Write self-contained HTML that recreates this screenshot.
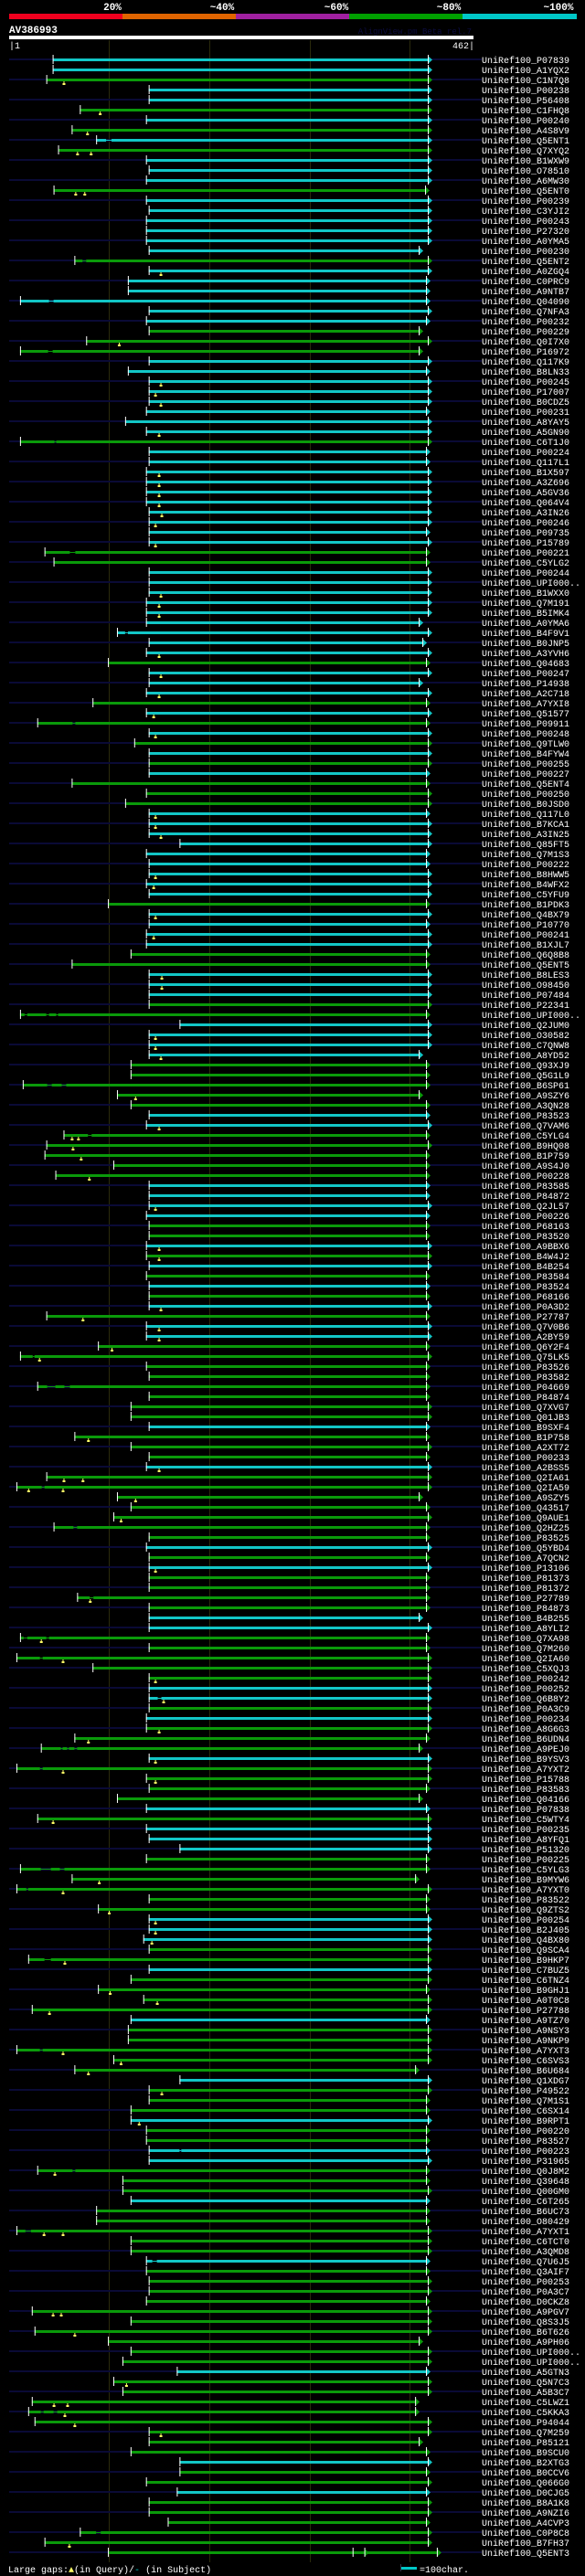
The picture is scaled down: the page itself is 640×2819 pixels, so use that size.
<!DOCTYPE html>
<html><head><meta charset="utf-8">
<style>
html,body{margin:0;padding:0;background:#000;}
svg{display:block;}
text{font-family:"Liberation Mono",monospace;}
</style></head>
<body>
<svg id="chart" width="640" height="2819" viewBox="0 0 640 2819" xmlns="http://www.w3.org/2000/svg">
<rect x="0" y="0" width="640" height="2819" fill="#000"/>
<g>
<rect x="10" y="15" width="124" height="6" fill="#f0001e"/>
<rect x="134" y="15" width="124" height="6" fill="#e06400"/>
<rect x="258" y="15" width="124" height="6" fill="#a020a0"/>
<rect x="382" y="15" width="124" height="6" fill="#00a000"/>
<rect x="506" y="15" width="125" height="6" fill="#00c8c8"/>
<text x="123" y="11" fill="#fff" font-size="11" font-weight="bold" text-anchor="middle">20%</text>
<text x="243" y="11" fill="#fff" font-size="11" font-weight="bold" text-anchor="middle">~40%</text>
<text x="368" y="11" fill="#fff" font-size="11" font-weight="bold" text-anchor="middle">~60%</text>
<text x="491" y="11" fill="#fff" font-size="11" font-weight="bold" text-anchor="middle">~80%</text>
<text x="611" y="11" fill="#fff" font-size="11" font-weight="bold" text-anchor="middle">~100%</text>
</g>
<text x="10" y="36" fill="#fff" font-size="11" font-weight="bold">AV386993</text>
<text x="516" y="37" fill="#0c0c40" font-size="9" text-anchor="end">AlignView.pm Beta rel.7</text>
<rect x="10" y="39" width="508" height="4" fill="#fff"/>
<text x="10" y="53" fill="#fff" font-size="10">|1</text>
<text x="519" y="53" fill="#fff" font-size="10" text-anchor="end">462|</text>
<g id="grid"></g>
<g id="rows"></g>
<g>
<text x="9" y="2815" fill="#fff" font-size="10">Large gaps:<tspan fill="#ffff66">▲</tspan>(in Query)/<tspan fill="#00c8c8">-</tspan> (in Subject)</text>
<rect x="439" y="2809" width="17" height="3" fill="#00c8c8"/>
<rect x="438" y="2806" width="1" height="8" fill="#334"/>
<text x="459" y="2815" fill="#fff" font-size="10">=100char.</text>
</g>
</svg>
<script>
const labels = ["P07839","A1YQX2","C1N7Q8","P00238","P56408","C1FHQ8","P00240","A4S8V9","Q5ENT1","Q7XYQ2",
"B1WXW9","O78510","A6MW30","Q5ENT0","P00239","C3YJI2","P00243","P27320","A0YMA5","P00230",
"Q5ENT2","A0ZGQ4","C0PRC9","A9NTB7","Q04090","Q7NFA3","P00232","P00229","Q0I7X0","P16972",
"Q117K9","B8LN33","P00245","P17007","B0CDZ5","P00231","A8YAY5","A5GN90","C6T1J0","P00224",
"Q117L1","B1X597","A3Z696","A5GV36","Q064V4","A3IN26","P00246","P09735","P15789","P00221",
"C5YLG2","P00244","UPI000..","B1WXX0","Q7M191","B5IMK4","A0YMA6","B4F9V1","B0JNP5","A3YVH6",
"Q04683","P00247","P14938","A2C718","A7YXI8","Q51577","P09911","P00248","Q9TLW0","B4FYW4",
"P00255","P00227","Q5ENT4","P00250","B0JSD0","Q117L0","B7KCA1","A3IN25","Q85FT5","Q7M1S3",
"P00222","B8HWW5","B4WFX2","C5YFU9","B1PDK3","Q4BX79","P10770","P00241","B1XJL7","Q6Q8B8",
"Q5ENT5","B8LES3","O98450","P07484","P22341","UPI000..","Q2JUM0","O30582","C7QNW8","A8YD52",
"Q93XJ9","Q5G1L9","B6SP61","A9SZY6","A3QN28","P83523","Q7VAM6","C5YLG4","B9HQ08","B1P759",
"A9S4J0","P00228","P83585","P84872","Q2JL57","P00226","P68163","P83520","A9BBX6","B4W4J2",
"B4B254","P83584","P83524","P68166","P0A3D2","P27787","Q7V0B6","A2BY59","Q6Y2F4","Q75LK5",
"P83526","P83582","P04669","P84874","Q7XVG7","Q01JB3","B9SXF4","B1P758","A2XT72","P00233",
"A2BSS5","Q2IA61","Q2IA59","A9SZY5","Q43517","Q9AUE1","Q2HZ25","P83525","Q5YBD4","A7QCN2",
"P13106","P81373","P81372","P27789","P84873","B4B255","A8YLI2","Q7XA98","Q7M260","Q2IA60",
"C5XQJ3","P00242","P00252","Q6B8Y2","P0A3C9","P00234","A8G6G3","B6UDN4","A9PEJ0","B9YSV3",
"A7YXT2","P15788","P83583","Q04166","P07838","C5WTY4","P00235","A8YFQ1","P51320","P00225",
"C5YLG3","B9MYW6","A7YXT0","P83522","Q9ZTS2","P00254","B2J405","Q4BX80","Q9SCA4","B9HKP7",
"C7BUZ5","C6TNZ4","B9GHJ1","A0T0C8","P27788","A9TZ70","A9NSY3","A9NKP9","A7YXT3","C6SVS3",
"B6U684","Q1XDG7","P49522","Q7M1S1","C6SX14","B9RPT1","P00220","P83527","P00223","P31965",
"Q0J8M2","Q39648","Q00GM0","C6T265","B6UC73","O80429","A7YXT1","C6TCT0","A3QMD8","Q7U6J5",
"Q3AIF7","P00253","P0A3C7","D0CKZ8","A9PGV7","Q8S3J5","B6T626","A9PH06","UPI000..","UPI000..",
"A5GTN3","Q5N7C3","A5B3C7","C5LWZ1","C5KKA3","P94044","Q7M259","P85121","B9SCU0","B2XTG3",
"B0CCV6","Q066G0","D0CJG5","B8A1K8","A9NZI6","A4CVP3","C0P8C8","B7FH37","Q5ENT3"];
const identityClass = ("ccgccgcgcg"+"cccgcccccc"+"gccccccggg"+"ccccccccgc"+"cccccccccg"+
"gccccccccc"+"gcccgcgcgc"+"gcgggccccc"+"ccccgccccg"+"gcccggcccc"+"gggggccggg"+
"ggccccggcg"+"cgcgcgccgg"+"ggggggcggg"+"cgggggggcg"+"cggggccggg"+"ggccgcgggc"+
"ggggcgcccg"+"gggggcccgg"+"cggggcgggg"+"gcgggcggcc"+"gggcgggggc"+"gggggggggg"+
"cggggggggc"+"ggcgggggg").split("");
const starts = [48,48,41,154,154,78,151,69,96,54,
151,154,151,49,151,154,151,151,151,154,
72,154,131,131,12,154,151,154,85,12,
154,131,154,154,154,151,128,151,12,154,
154,151,151,151,151,154,154,154,154,39,
49,154,154,154,151,151,151,119,154,151,
109,154,154,151,92,151,31,154,138,154,
154,154,69,151,128,154,154,154,188,151,
154,154,151,154,109,154,154,151,151,134,
69,154,154,154,154,12,188,154,154,154,
134,134,15,119,134,154,151,60,41,39,
115,51,154,154,154,151,154,154,151,151,
154,151,154,154,154,41,151,151,98,12,
151,154,31,154,134,134,154,72,134,154,
151,41,8,119,134,115,49,154,151,154,
154,154,154,75,154,154,154,12,154,8,
92,154,154,154,154,151,151,72,35,154,
8,151,154,119,151,31,151,154,188,151,
12,69,8,154,98,154,154,148,154,21,
154,134,98,148,25,134,131,131,8,115,
72,188,154,154,134,134,151,151,154,154,
31,125,125,134,96,96,8,134,134,151,
151,154,154,151,25,134,28,109,134,125,
185,115,125,25,21,28,154,154,134,188,
188,151,185,154,154,175,78,39,109];
const ends = [462,462,462,462,462,462,462,462,462,462,
462,462,462,459,462,462,462,462,462,452,
462,462,460,460,460,462,460,452,462,452,
462,460,462,462,462,460,462,462,462,460,
460,462,462,462,462,462,462,460,462,460,
460,462,462,462,462,462,452,462,456,462,
460,462,452,462,460,462,460,462,462,462,
462,460,460,462,462,460,462,462,462,460,
460,462,462,462,460,462,460,462,462,460,
460,462,462,462,462,460,462,462,462,452,
460,460,460,452,460,460,462,460,462,460,
460,460,460,460,462,460,460,460,462,462,
462,460,460,460,462,460,462,462,460,462,
460,460,460,460,462,462,460,460,462,460,
462,462,462,452,460,462,460,460,462,460,
462,460,460,460,460,452,462,460,460,462,
462,462,462,462,462,462,462,460,452,462,
462,462,460,452,460,462,462,462,462,460,
460,448,462,460,460,462,462,462,462,462,
462,462,460,462,462,460,462,462,462,462,
448,462,462,460,460,462,460,460,460,462,
460,460,462,460,460,460,462,462,462,460,
460,462,462,460,462,462,462,452,462,462,
460,462,462,448,448,462,462,452,460,462,
460,462,460,462,462,460,462,462,472];
// query gaps (yellow markers): row index + residue position
const queryGapRows = [2,5,7,9,9,13,13,21,28,32,33,34,37,41,42,43,44,45,46,48,53,54,55,59,61,63,65,67,75,76,77,81,82,85,87,91,92,97,98,99,
103,106,107,107,108,109,111,114,118,119,124,125,126,127,128,129,137,140,141,141,142,142,143,145,150,153,157,159,161,163,166,167,169,170,171,
175,181,182,184,185,186,187,189,192,193,194,198,199,200,202,205,210,216,216,224,224,226,231,233,233,234,235,236,247];
const queryGapPos = [60,100,86,75,90,73,83,167,121,167,161,167,165,165,165,165,165,168,161,161,167,165,165,165,167,165,159,161,161,161,167,161,159,161,159,168,168,161,161,167,
139,165,69,76,70,79,88,161,165,165,167,81,165,165,113,33,87,165,60,81,21,59,139,123,161,89,35,59,161,170,165,87,161,59,161,
48,99,59,110,161,161,157,61,111,163,44,59,123,87,168,143,50,38,59,48,57,72,129,49,64,61,72,167,66];
// subject gaps: row index, from, to residue
const subjGapRows = [8,20,24,29,38,49,57,66,95,95,95,102,102,107,129,132,132,142,146,153,157,157,159,163,168,168,168,170,180,180,182,189,198,208,210,216,219,234,234,246];
const subjGapFrom = [107,81,44,43,50,67,128,70,17,41,52,42,58,87,26,42,61,36,71,89,16,41,34,164,57,64,72,34,35,56,19,39,34,188,70,18,158,35,49,96];
const subjGapTo = [113,85,49,48,52,73,131,73,20,44,54,47,63,91,28,51,67,39,75,93,20,44,37,168,59,66,75,37,46,61,21,46,37,190,73,24,163,38,53,101];
// second HSP on last row
const splitRow = 248, splitTick = 379, splitArrow = 392;

const NS = "http://www.w3.org/2000/svg";
const QLEN = 462, X0 = 10, XW = 458, ROW0 = 65, ROWH = 11;
const xOf = p => X0 + p * XW / QLEN;
const yOf = i => ROW0 + i * ROWH;
const COLORS = {c:"#12c6c6", g:"#0a9a0a"};
function mk(tag, attrs, parent){ const e=document.createElementNS(NS,tag); for(const k in attrs) e.setAttribute(k,attrs[k]); parent.appendChild(e); return e; }

const grid = document.getElementById("grid");
[119,229,339,448].forEach(gx=>{
  const l = mk("rect",{x:gx,y:44,width:1,height:2760,fill:"#2a2a0c"},grid);
  
  
});

const rows = document.getElementById("rows");
labels.forEach((lab,i)=>{
  const y = yOf(i);
  const g = mk("g",{},rows);
  
  
  if(i%2===0){
    const s = mk("rect",{x:10,y:y-1,width:517,height:2,fill:"#0a0a36"},g);
    
    
  }
  const col = COLORS[identityClass[i]];
  const xs = xOf(starts[i]), xe = xOf(ends[i]);
  const bar = mk("rect",{x:xs,y:y-1,width:Math.max(0,xe-xs),height:3,fill:col},g);
  
  
  const st = mk("rect",{x:xs,y:y-5,width:1,height:10,fill:"#fff"},g);
  
  
  const arrows = (i===splitRow) ? [splitArrow, ends[i]] : [ends[i]];
  if(i===splitRow){
    const t2 = mk("rect",{x:xOf(splitTick),y:y-5,width:1,height:10,fill:"#fff"},g);
    
    
  }
  arrows.forEach(p=>{
    const ax = xOf(p);
    const tri = mk("polygon",{points:`${ax},${y-4} ${ax+5},${y+0.5} ${ax},${y+5}`,fill:col},g);
    
    
    const et = mk("rect",{x:ax,y:y-5,width:1,height:10,fill:"#fff"},g);
    
    
  });
  const t = mk("text",{x:527,y:y+4,fill:"#fff","font-size":"10"},g);
  t.textContent = "UniRef100_"+lab;
  
  
});

subjGapRows.forEach((r,k)=>{
  const y = yOf(r), a = xOf(subjGapFrom[k]), b = xOf(subjGapTo[k]);
  const col = COLORS[identityClass[r]];
  const bg = mk("rect",{x:a,y:y-1,width:b-a,height:3,fill:(r%2===0)?"#0a0a36":"#000"},rows);
  
  
  const ln = mk("rect",{x:a,y:y,width:b-a,height:1,fill:col},rows);
  
  
});

queryGapRows.forEach((r,k)=>{
  const y = yOf(r), x = xOf(queryGapPos[k]);
  const m = mk("path",{d:`M${x},${y+2}h1v2h1v2h-3v-2h1z`,fill:"#ffff66"},rows);
  
  
});
</script>
</body></html>
